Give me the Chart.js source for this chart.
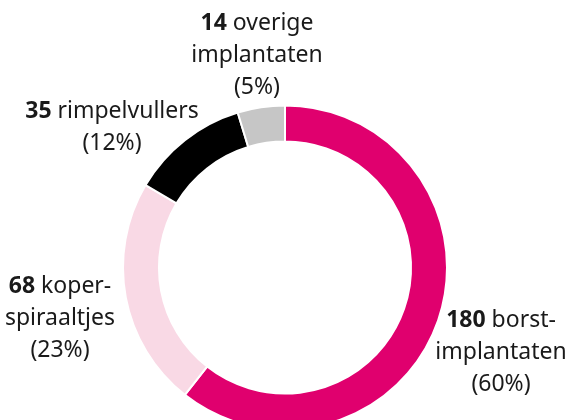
<!DOCTYPE html>
<html>
<head>
<meta charset="utf-8">
<script src="https://cdn.jsdelivr.net/npm/chart.js@4/dist/chart.umd.min.js"></script>
<style>
  html, body { margin: 0; padding: 0; background: #fff; overflow: hidden; width: 571px; height: 420px; }
  #wrap { position: absolute; left: 0; top: 0; width: 570px; height: 535px; }
  .lbl { position: absolute; transform: translateX(-50%); text-align: center; white-space: nowrap;
         font-family: "Noto Sans", sans-serif; font-size: 23px; line-height: 32px; color: #1a1a1a; }
  .lbl b { font-weight: 700; }
</style>
</head>
<body>
<div id="wrap"><canvas id="myChart"></canvas></div>
<script>
// data
var waarden = [180, 68, 35, 14];
var namen = [["borst-", "implantaten"], ["koper-", "spiraaltjes"], ["rimpelvullers"], ["overige", "implantaten"]];
var procenten = [60, 23, 12, 5];
var kleuren = ["#e0006e", "#f9d9e5", "#000000", "#c6c6c6"];

// label anchors (center x, top)
var plek = [[501, 302], [60, 268], [112, 93], [257, 5]];

var ctx = document.getElementById('myChart');
var myChart = new Chart(ctx, {
  type: 'doughnut',
  data: {
    labels: namen.map(function(n){ return n.join(' '); }),
    datasets: [{
      data: waarden,
      backgroundColor: kleuren,
      borderColor: '#ffffff',
      borderWidth: 2,
      radius: 162,
      cutout: '77.8%'
    }]
  },
  options: {
    responsive: true,
    maintainAspectRatio: false,
    animation: false,
    layout: { padding: 0 },
    plugins: { legend: { display: false }, tooltip: { enabled: false } }
  }
});

for (var i = 0; i < waarden.length; i++) {
  var d = document.createElement('div');
  d.className = 'lbl';
  d.style.left = plek[i][0] + 'px';
  d.style.top = plek[i][1] + 'px';
  var html = '<b>' + waarden[i] + '</b> ' + namen[i][0];
  for (var j = 1; j < namen[i].length; j++) html += '<br>' + namen[i][j];
  html += '<br>(' + procenten[i] + '%)';
  d.innerHTML = html;
  document.body.appendChild(d);
}
</script>
</body>
</html>
